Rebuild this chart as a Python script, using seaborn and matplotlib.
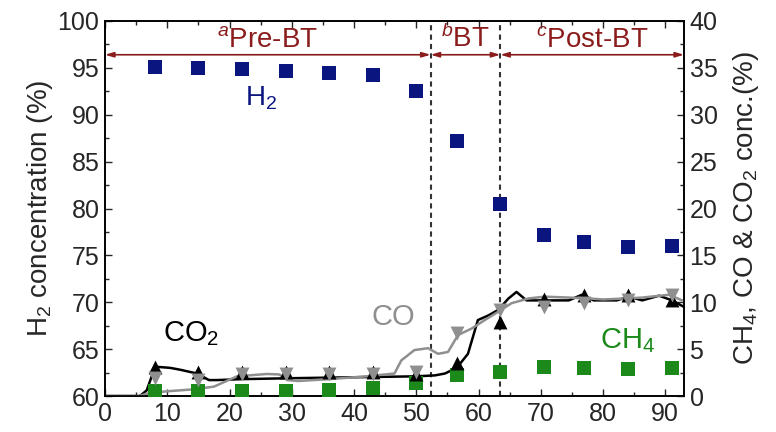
import matplotlib
matplotlib.use('Agg')
import matplotlib.pyplot as plt
import seaborn as sns
import pandas as pd
from matplotlib.ticker import MultipleLocator

# GC sampling times (min) and concentrations
sampleTime = [8, 15, 22, 29, 36, 43, 50, 56.5, 63.5, 70.5, 77, 84, 91]
h2Conc = [95.1, 95.0, 94.9, 94.7, 94.5, 94.2, 92.5, 87.2, 80.5, 77.2, 76.4, 75.9, 76.0]
ch4Conc = [0.5, 0.5, 0.5, 0.5, 0.6, 0.9, 1.35, 2.2, 2.6, 3.1, 2.95, 2.9, 3.0]
co2Conc = [3.1, 2.6, 2.6, 2.6, 2.6, 2.6, 2.4, 3.5, 7.9, 10.4, 10.8, 10.8, 10.2]
coConc = [1.9, 1.7, 2.4, 2.4, 2.4, 2.4, 2.6, 6.7, 9.2, 9.5, 9.9, 10.2, 10.8]

# continuous analyser traces
co2LineTime = [0, 5.6, 6.7, 7.5, 8.6, 10.5, 12.1, 14.8, 16.7, 18, 22, 30, 40, 50, 53,
               54.6, 56.5, 58.3, 59.9, 61.6, 63.2, 64.8, 66.1, 67.7, 70.6, 74.5, 76.6,
               78.5, 82.2, 84.1, 86.3, 89, 91.1, 93]
co2Line = [0, 0, 0.6, 2.1, 3.1, 3.0, 2.8, 2.4, 1.7, 1.7, 1.8, 1.9, 2.0, 2.1, 2.2,
           2.4, 3.0, 4.5, 8.1, 8.6, 9.2, 10.4, 11.1, 10.2, 10.2, 10.2, 10.8,
           10.2, 10.2, 10.6, 10.2, 10.7, 10.2, 9.5]
coLineTime = [0, 5.5, 7, 9.9, 14, 17.5, 21.2, 26, 28, 29.3, 31, 36, 42, 46.5, 47.6,
              49.7, 51.9, 53.5, 55.1, 56.7, 58.9, 61, 63.2, 65.3, 68, 70.6, 74.5,
              77.8, 80, 83.6, 86.3, 90.6, 92.7]
coLine = [0, 0, 0.3, 0.5, 0.7, 1.0, 2.1, 2.35, 2.3, 1.7, 1.6, 1.8, 2.1, 2.4, 3.8,
          4.9, 5.1, 4.5, 4.7, 6.5, 7.2, 8.1, 9.0, 9.9, 10.4, 10.6, 10.5,
          10.4, 10.3, 10.4, 10.5, 10.8, 10.2]

# phase boundaries (min) and labels
phaseBounds = [0, 52.3, 63.5, 93]
phaseLabels = ['$^a$Pre-BT', '$^b$BT', '$^c$Post-BT']

navy = '#0b1580'
green = '#1b8a1b'
grey = '#8f8f8f'
darkred = '#8b1c1c'

sns.set_style('ticks')
plt.rcParams['font.family'] = ['Liberation Sans', 'DejaVu Sans']
plt.rcParams['mathtext.fontset'] = 'custom'
plt.rcParams['mathtext.rm'] = 'Liberation Sans'
plt.rcParams['mathtext.it'] = 'Liberation Sans:italic'

fig = plt.figure(figsize=(7.76, 4.32), dpi=100)
ax = fig.add_axes([0.1353, 0.0833, 0.7461, 0.8681])
ax2 = ax.twinx()

dfH2 = pd.DataFrame({'t': sampleTime, 'c': h2Conc})
sns.scatterplot(data=dfH2, x='t', y='c', marker='s', s=110, color=navy,
                edgecolor=navy, linewidth=0, ax=ax, zorder=3)

sns.lineplot(x=co2LineTime, y=co2Line, color='black', lw=1.8, ax=ax2, sort=False)
sns.lineplot(x=coLineTime, y=coLine, color=grey, lw=1.8, ax=ax2, sort=False)
sns.scatterplot(x=sampleTime, y=ch4Conc, marker='s', s=110, color=green,
                linewidth=0, ax=ax2, zorder=3)
sns.scatterplot(x=sampleTime, y=co2Conc, marker='^', s=100, color='black',
                linewidth=0, ax=ax2, zorder=4)
sns.scatterplot(x=sampleTime, y=coConc, marker='v', s=100, color=grey,
                linewidth=0, ax=ax2, zorder=5)

for xb in phaseBounds[1:3]:
    ax.axvline(xb, color='#333333', ls=(0, (2.5, 2)), lw=1.5, zorder=1)

for i, lab in enumerate(phaseLabels):
    x0, x1 = phaseBounds[i], phaseBounds[i + 1]
    ax.annotate('', xy=(x0, 96.4), xytext=(x1, 96.4),
                arrowprops=dict(arrowstyle='<|-|>,head_length=0.5,head_width=0.15',
                                color=darkred, lw=1.2, shrinkA=0, shrinkB=0))
    ax.text((x0 + x1) / 2, 96.6, lab, color=darkred, fontsize=20,
            ha='center', va='bottom')

ax.text(25, 91.8, 'H$_2$', color=navy, fontsize=20, ha='center', va='center')
ax2.text(13.9, 6.7, 'CO$_2$', color='black', fontsize=21, ha='center', va='center')
ax2.text(46.3, 8.4, 'CO', color=grey, fontsize=21, ha='center', va='center')
ax2.text(83.9, 5.9, 'CH$_4$', color=green, fontsize=21, ha='center', va='center')

ax.set_xlim(0, 93)
ax.set_ylim(60, 100)
ax2.set_ylim(0, 40)
ax.xaxis.set_major_locator(MultipleLocator(10))
ax.xaxis.set_minor_locator(MultipleLocator(5))
ax.yaxis.set_major_locator(MultipleLocator(5))
ax.yaxis.set_minor_locator(MultipleLocator(2.5))
ax2.yaxis.set_major_locator(MultipleLocator(5))
ax2.yaxis.set_minor_locator(MultipleLocator(2.5))

ax.tick_params(axis='both', which='both', direction='in', labelsize=18,
               top=True, width=1, pad=4)
ax.tick_params(which='major', length=5)
ax.tick_params(which='minor', length=3)
ax2.tick_params(axis='y', which='both', direction='in', labelsize=18, width=1, pad=4)
ax2.tick_params(which='major', length=5)
ax2.tick_params(which='minor', length=3)

ax.set_xlabel('')
ax.set_ylabel('H$_2$ concentration (%)', fontsize=20, labelpad=2)
ax2.set_ylabel('CH$_4$, CO & CO$_2$ conc.(%)', fontsize=20, rotation=90, labelpad=10)

for a in (ax, ax2):
    for sp in a.spines.values():
        sp.set_linewidth(1.2)
        sp.set_color('black')

fig.savefig('out.png', dpi=100)
